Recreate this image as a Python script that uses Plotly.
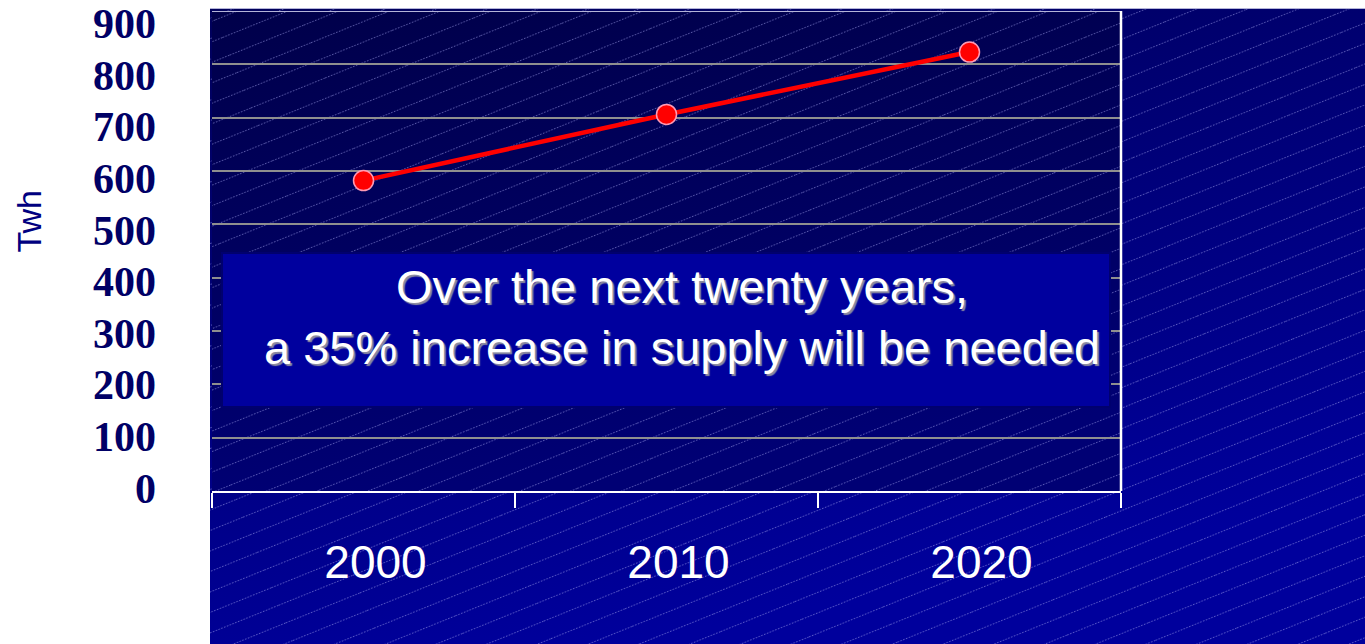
import base64
import plotly.graph_objects as go

# Electricity demand, TWh
years = ["2000", "2010", "2020"]
twh = [582, 706, 823]
y_ticks = [0, 100, 200, 300, 400, 500, 600, 700, 800, 900]

NOTE_LINES = ["Over the next twenty years,", "a 35% increase in supply will be needed"]

# Figure geometry (pixels)
W, H = 1365, 644
L, R, T, B = 212, 244, 11, 153
PW, PH = W - L - R, H - T - B


def svg_uri(svg):
    return "data:image/svg+xml;base64," + base64.b64encode(svg.encode()).decode()


def hatched_panel(w, h, c_top, c_bottom, gx2=0.25):
    """Navy gradient panel with a fine dotted diagonal hatch."""
    return svg_uri(f"""<svg xmlns="http://www.w3.org/2000/svg" width="{w}" height="{h}" viewBox="0 0 {w} {h}">
<defs>
<linearGradient id="g" x1="0" y1="0" x2="{gx2}" y2="1">
<stop offset="0" stop-color="{c_top}"/><stop offset="1" stop-color="{c_bottom}"/>
</linearGradient>
<pattern id="h" width="80" height="19" patternUnits="userSpaceOnUse" patternTransform="rotate(-22)">
<line x1="0" y1="9.5" x2="80" y2="9.5" stroke="#a4a4ee" stroke-width="1" stroke-dasharray="1.5 1.5"/>
</pattern>
</defs>
<rect width="{w}" height="{h}" fill="url(#g)"/>
<rect width="{w}" height="{h}" fill="url(#h)" opacity="0.55"/>
<line x1="0" y1="0.5" x2="{w}" y2="0.5" stroke="#b4b4d8" stroke-width="1"/>
</svg>""")


outer_w, outer_h = W - 210, H - 8
outer_img = hatched_panel(outer_w, outer_h, "#00005a", "#00009c", 0.35)
plot_img = hatched_panel(PW, PH, "#00004a", "#000074", 0.2)

fig = go.Figure()

fig.add_trace(go.Scatter(
    x=years, y=twh, mode="lines+markers",
    line=dict(color="#ff0000", width=4.5),
    marker=dict(size=20, color="#ff0000", line=dict(color="#ff9ab4", width=1.5)),
    hoverinfo="skip", showlegend=False,
))
# companion trace so the label axis is laid out
fig.add_trace(go.Scatter(
    x=years, y=twh, yaxis="y2", mode="markers",
    marker=dict(opacity=0), hoverinfo="skip", showlegend=False,
))

fig.update_layout(
    width=W, height=H,
    margin=dict(l=L, r=R, t=T, b=B, pad=0, autoexpand=False),
    paper_bgcolor="white",
    plot_bgcolor="rgba(0,0,0,0)",
    xaxis=dict(
        type="category", range=[-0.5, 2.5], automargin=False,
        showgrid=False, zeroline=False,
        showline=True, linecolor="white", linewidth=2,
        ticks="outside", tickson="boundaries", ticklen=15, tickwidth=2, tickcolor="white",
        tickfont=dict(family="Liberation Sans, Arial", size=46, color="white"),
        ticklabelstandoff=30, ticklabelshift=12,
    ),
    yaxis=dict(
        range=[0, 900], tickvals=y_ticks, showticklabels=False, automargin=False,
        showgrid=True, gridcolor="#8f8f8f", gridwidth=2,
        zeroline=False, showline=False, ticks="",
    ),
    yaxis2=dict(
        overlaying="y", side="left", range=[-5.8, 924.2], automargin=False,
        tickvals=y_ticks, ticktext=[str(v) for v in y_ticks],
        showgrid=False, zeroline=False, showline=False, ticks="",
        tickfont=dict(family="Liberation Serif, Times New Roman", size=42,
                      color="#000066", weight="bold"),
        ticklabelstandoff=55,
    ),
    images=[
        dict(source=outer_img, xref="paper", yref="paper",
             x=-2 / PW, y=1 + 3 / PH, sizex=outer_w / PW, sizey=outer_h / PH,
             xanchor="left", yanchor="top", sizing="stretch", layer="below"),
        dict(source=plot_img, xref="paper", yref="paper",
             x=0, y=1, sizex=1, sizey=1,
             xanchor="left", yanchor="top", sizing="stretch", layer="below"),
    ],
    shapes=[
        # right frame of the plot area
        dict(type="line", xref="paper", yref="paper", x0=1, x1=1, y0=0, y1=1,
             line=dict(color="white", width=2.5)),
        # text panel
        dict(type="rect", xref="paper", yref="paper",
             x0=(222 - L) / PW, x1=(1110 - L) / PW,
             y0=(H - B - 407) / PH, y1=(H - B - 253) / PH,
             fillcolor="#00009e", line=dict(color="#00006e", width=2), layer="above"),
    ],
    annotations=[
        dict(text="<br>".join(NOTE_LINES), xref="paper", yref="paper",
             x=(682 - L) / PW, y=(H - B - 317) / PH, xanchor="center", yanchor="middle",
             showarrow=False, align="center",
             font=dict(family="Liberation Sans, Arial", size=47, color="white",
                       shadow="2px 2px 1px #8c8ca0")),
        dict(text="Twh", xref="paper", yref="paper",
             x=(28.5 - L) / PW, y=(H - B - 222) / PH, xanchor="center", yanchor="middle",
             textangle=-90, showarrow=False,
             font=dict(family="Liberation Sans, Arial", size=34, color="#000080")),
    ],
)

fig.write_html("out.html")
